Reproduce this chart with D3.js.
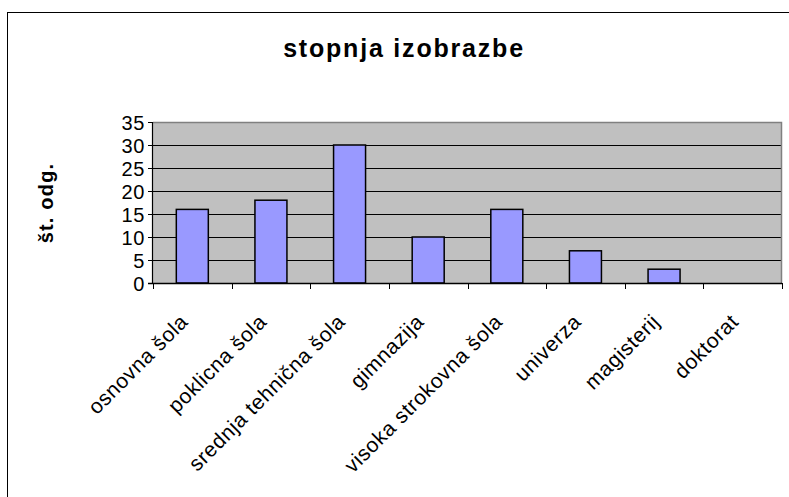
<!DOCTYPE html>
<html><head><meta charset="utf-8">
<script src="https://cdn.jsdelivr.net/npm/d3@7"></script>
<style>body{margin:0;background:#fff}svg{display:block}text{font-family:"Liberation Sans",Arial,sans-serif}</style>
</head><body>
<script>
const categories = ["osnovna šola","poklicna šola","srednja tehnična šola","gimnazija","visoka strokovna šola","univerza","magisterij","doktorat"];
const values = [16,18,30,10,16,7,3,0];
const yTicks = [0,5,10,15,20,25,30,35];
const title = "stopnja izobrazbe";
const yTitle = "št. odg.";

const W=789,H=497;
const svg=d3.select("body").append("svg").attr("width",W).attr("height",H);
svg.append("rect").attr("x",0).attr("y",0).attr("width",W).attr("height",H).attr("fill","#fff");
// outer border (cropped on right/bottom)
svg.append("rect").attr("x",7.5).attr("y",12.5).attr("width",W+10).attr("height",H+10)
  .attr("fill","none").attr("stroke","#000").attr("stroke-width",1);

const L=153,R=782,T=122,B=283;
const x=d3.scaleBand().domain(categories).range([L,R]).paddingInner(0).paddingOuter(0);
const y=d3.scaleLinear().domain([0,35]).range([B,T]);

svg.append("rect").attr("x",L).attr("y",T).attr("width",R-L).attr("height",B-T).attr("fill","#C0C0C0");
// gridlines
svg.append("g").selectAll("line").data(yTicks.filter(d=>d>0 && d<35)).join("line")
  .attr("x1",L).attr("x2",R).attr("y1",d=>Math.round(y(d))+0.5).attr("y2",d=>Math.round(y(d))+0.5)
  .attr("stroke","#000").attr("stroke-width",1);
// plot border top/right grey
svg.append("path").attr("d",`M${L},${T+0.5}H${R-0.5}V${B}`).attr("fill","none").attr("stroke","#808080").attr("stroke-width",1.5);

// bars
const bw=32;
svg.append("g").selectAll("rect").data(categories.map((c,i)=>({c,v:values[i]})).filter(d=>d.v>0)).join("rect")
  .attr("x",d=>x(d.c)+x.bandwidth()/2-bw/2).attr("width",bw)
  .attr("y",d=>y(d.v)).attr("height",d=>B-y(d.v))
  .attr("fill","#9999FF").attr("stroke","#000").attr("stroke-width",1.5);

// y axis
const ya=svg.append("g").attr("transform",`translate(${L},0)`)
  .call(d3.axisLeft(y).tickValues(yTicks).tickSize(5).tickPadding(3));
ya.select(".domain").attr("stroke","#000").attr("stroke-width",1.2).attr("d",`M-0.5,${T}V${B}`);
ya.selectAll(".tick line").attr("stroke","#000");
ya.selectAll(".tick text").attr("font-size",20).attr("letter-spacing","0.6px").attr("font-family","Liberation Sans, Arial").attr("fill","#000").attr("dy","0.36em");

// x axis
const xa=svg.append("g").attr("transform",`translate(0,${B})`);
xa.append("line").attr("x1",L-5).attr("x2",R).attr("y1",0.5).attr("y2",0.5).attr("stroke","#000").attr("stroke-width",1.5);
const bounds=categories.map(c=>x(c)).concat([R]);
xa.selectAll("line.t").data(bounds).join("line").attr("class","t")
  .attr("x1",d=>Math.round(d)+0.5).attr("x2",d=>Math.round(d)+0.5).attr("y1",0).attr("y2",6).attr("stroke","#000");
xa.selectAll("text").data(categories).join("text")
  .attr("transform",d=>`translate(${x(d)+x.bandwidth()/2-3},${40}) rotate(-45)`)
  .attr("text-anchor","end").attr("font-size",21).attr("letter-spacing","0.6px").attr("fill","#000").text(d=>d);

// titles
svg.append("text").attr("x",404).attr("y",57).attr("text-anchor","middle").attr("font-size",25).attr("letter-spacing","1.8px").attr("font-weight","bold").text(title);
svg.append("text").attr("transform",`translate(53,203) rotate(-90)`).attr("text-anchor","middle").attr("font-size",20).attr("letter-spacing","1.2px").attr("font-weight","bold").text(yTitle);
</script>
</body></html>
